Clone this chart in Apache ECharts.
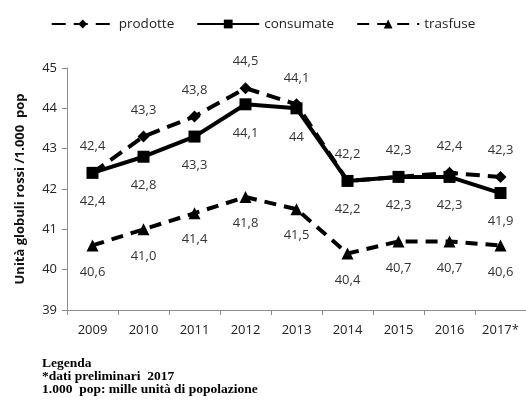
<!DOCTYPE html>
<html>
<head>
<meta charset="utf-8">
<script src="https://cdn.jsdelivr.net/npm/echarts@6/dist/echarts.min.js"></script>
<style>
  html, body { margin: 0; padding: 0; background: #fff; }
  #chart { width: 526px; height: 403px; }
</style>
</head>
<body>
<div id="chart"></div>
<script>
var anni = ["2009", "2010", "2011", "2012", "2013", "2014", "2015", "2016", "2017*"];
var prodotte = [42.4, 43.3, 43.8, 44.5, 44.1, 42.2, 42.3, 42.4, 42.3];
var consumate = [42.4, 42.8, 43.3, 44.1, 44, 42.2, 42.3, 42.3, 41.9];
var trasfuse = [40.6, 41.0, 41.4, 41.8, 41.5, 40.4, 40.7, 40.7, 40.6];

var chart = echarts.init(document.getElementById("chart"));

function virgola(v) {
  return String(v).replace(".", ",");
}

var option = {
  animation: false,
  textStyle: { fontFamily: "Open Sans" },
  grid: {
    left: 67,
    right: -3,
    top: 68,
    bottom: 93
  },
  legend: {
    top: 12,
    left: "center",
    itemWidth: 62,
    itemHeight: 11,
    itemGap: 22,
    textStyle: { fontSize: 13.5, color: "#222" },
    data: ["prodotte", "consumate", "trasfuse"]
  },
  xAxis: {
    type: "category",
    data: anni,
    axisLine: { lineStyle: { color: "#8c8c8c", width: 1 } },
    axisTick: { show: true, length: 5, lineStyle: { color: "#8c8c8c" } },
    axisLabel: { fontSize: 13, color: "#222", margin: 14 }
  },
  yAxis: {
    type: "value",
    min: 39,
    max: 45,
    interval: 1,
    name: "Unità globuli rossi /1.000  pop",
    nameLocation: "middle",
    nameGap: 40,
    nameTextStyle: { fontSize: 13, fontWeight: "bold", color: "#111" },
    axisLine: { show: true, lineStyle: { color: "#8c8c8c", width: 1 } },
    axisTick: { show: true, length: 5, lineStyle: { color: "#8c8c8c" } },
    axisLabel: { fontSize: 13, color: "#222", margin: 10 },
    splitLine: { show: false }
  },
  series: [
    {
      name: "prodotte",
      type: "line",
      data: prodotte,
      symbol: "diamond",
      symbolSize: 12,
      itemStyle: { color: "#000" },
      lineStyle: { color: "#000", width: 4, type: [14, 8] },
      label: {
        show: true,
        position: "top",
        distance: 14,
        fontSize: 13,
        color: "#333",
        formatter: function (p) { return virgola(p.value); }
      }
    },
    {
      name: "consumate",
      type: "line",
      data: consumate,
      symbol: "rect",
      symbolSize: 12,
      itemStyle: { color: "#000" },
      lineStyle: { color: "#000", width: 4 },
      label: {
        show: true,
        position: "bottom",
        distance: 16,
        fontSize: 13,
        color: "#333",
        formatter: function (p) { return virgola(p.value); }
      }
    },
    {
      name: "trasfuse",
      type: "line",
      data: trasfuse,
      symbol: "triangle",
      symbolSize: 12,
      itemStyle: { color: "#000" },
      lineStyle: { color: "#000", width: 4, type: [12, 8] },
      label: {
        show: true,
        position: "bottom",
        distance: 14,
        fontSize: 13,
        color: "#333",
        formatter: function (p) { return p.value.toFixed(1).replace(".", ","); }
      }
    }
  ],
  graphic: [
    {
      type: "text",
      left: 42,
      top: 357,
      style: {
        text: "Legenda\n*dati preliminari  2017\n1.000  pop: mille unità di popolazione",
        font: "bold 13.5px 'Liberation Serif'",
        lineHeight: 13,
        fill: "#000"
      }
    }
  ]
};

chart.setOption(option);
</script>
</body>
</html>
